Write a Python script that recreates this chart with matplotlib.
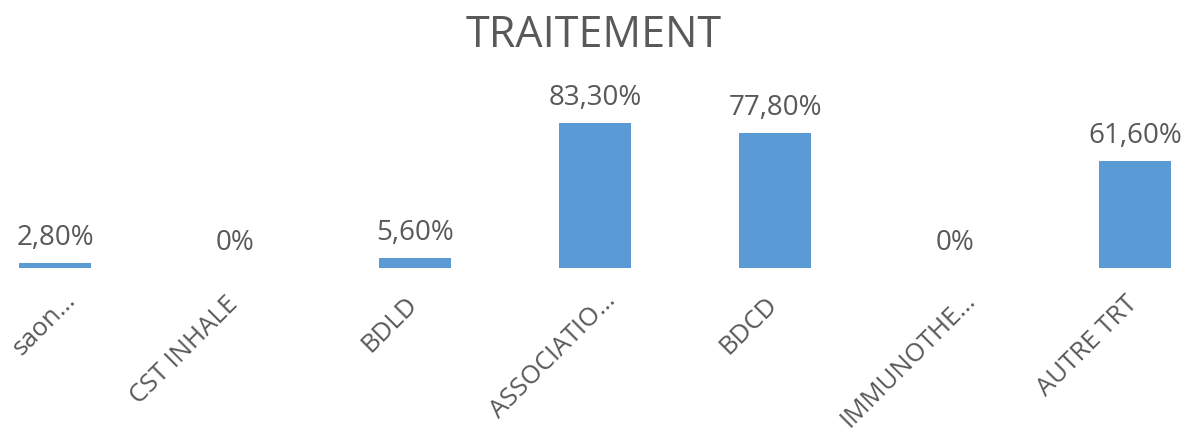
import matplotlib.pyplot as plt
import matplotlib.transforms as mtransforms

categories = ["saon…", "CST INHALE", "BDLD", "ASSOCIATIO…", "BDCD", "IMMUNOTHE…", "AUTRE TRT"]
values = [2.8, 0, 5.6, 83.3, 77.8, 0, 61.6]
value_labels = ["2,80%", "0%", "5,60%", "83,30%", "77,80%", "0%", "61,60%"]

plt.rcParams['font.family'] = ['Open Sans', 'DejaVu Sans']
text_color = '#595959'
bar_color = '#5B9BD5'

fig = plt.figure(figsize=(11.88, 4.32), dpi=100)
ax = fig.add_axes([0, 164 / 432, 1, 174 / 432])

x = list(range(len(categories)))
ax.bar(x, values, width=0.4, color=bar_color)
for xi, v, lab in zip(x, values, value_labels):
    ax.annotate(lab, (xi, v), xytext=(0, 13), textcoords='offset points',
                ha='center', va='baseline', fontsize=20, color=text_color)

ax.set_xlim(-55 / 180, (1188 - 55) / 180)
ax.set_ylim(0, 100)
ax.set_xticks(x)
ax.set_xticklabels(categories, rotation=45, ha='right', rotation_mode='anchor',
                   fontsize=18.5, color=text_color)
ax.tick_params(axis='x', length=0, pad=17)
# shift rotated labels like the original; truncated ones sit further right
for lbl, name in zip(ax.get_xticklabels(), categories):
    if name.endswith("…"):
        dx, dy = 8, 4
    else:
        dx, dy = -10, 0
    shift = mtransforms.ScaledTranslation(dx / 100, dy / 100, fig.dpi_scale_trans)
    lbl.set_transform(lbl.get_transform() + shift)
ax.set_yticks([])
for s in ax.spines.values():
    s.set_visible(False)

fig.text(0.5, 1 - 47 / 432, "TRAITEMENT", ha='center', va='baseline',
         fontsize=31, color=text_color)

fig.savefig("out.png", dpi=100)
